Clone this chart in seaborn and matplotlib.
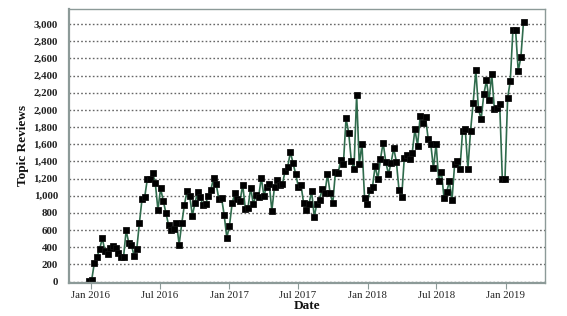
import numpy as np
import pandas as pd
import matplotlib
matplotlib.use("Agg")
import matplotlib.pyplot as plt
import matplotlib.dates as mdates
from matplotlib.ticker import FuncFormatter, MultipleLocator
import seaborn as sns

# weekly series starting at this date
start_date = "2015-12-27"
reviews = [
    8, 20, 220, 286, 380, 506, 353, 322, 388, 416, 388, 337, 282, 282, 596, 451,
    427, 298, 380, 682, 965, 984, 1195, 1195, 1265, 1150, 835, 1085, 943, 796, 660, 602,
    613, 687, 431, 680, 896, 1059, 998, 768, 920, 1041, 982, 889, 908, 998, 1071, 1211,
    1134, 959, 978, 776, 512, 650, 912, 1029, 959, 940, 1126, 846, 862, 1095, 901, 1009,
    982, 1211, 998, 1106, 1137, 827, 1106, 1188, 1126, 1137, 1289, 1339, 1510, 1378, 1254, 1106,
    1125, 912, 835, 901, 1056, 757, 908, 951, 1079, 1029, 1250, 1029, 912, 1281, 1261, 1416,
    1370, 1900, 1735, 1405, 1312, 2175, 1366, 1605, 970, 901, 1067, 1106, 1350, 1195, 1428, 1618,
    1397, 1250, 1385, 1553, 1397, 1067, 982, 1444, 1471, 1428, 1502, 1774, 1583, 1929, 1844, 1914,
    1665, 1600, 1320, 1603, 1176, 1281, 971, 1041, 1172, 950, 1370, 1405, 1308, 1758, 1777, 1312,
    1754, 2086, 2462, 2006, 1890, 2180, 2343, 2119, 2416, 2006, 2026, 2067, 1196, 1196, 2138, 2338,
    2934, 2934, 2452, 2615, 3027,
]
dates = pd.date_range(start_date, periods=len(reviews), freq="7D")
df = pd.DataFrame({"Date": dates, "Topic Reviews": reviews})

tick_dates = ["2016-01-01", "2016-07-01", "2017-01-01", "2017-07-01",
              "2018-01-01", "2018-07-01", "2019-01-01"]
tick_labels = ["Jan 2016", "Jul 2016", "Jan 2017", "Jul 2017",
               "Jan 2018", "Jul 2018", "Jan 2019"]

sns.set_theme(style="white")
plt.rcParams["font.family"] = ["Liberation Serif", "DejaVu Serif"]

fig = plt.figure(figsize=(5.67, 3.16), dpi=100)
ax = fig.add_axes([0.1217, 0.106, 0.8390, 0.8655])

sns.lineplot(data=df, x="Date", y="Topic Reviews", ax=ax, color="#2f6b4c",
             linewidth=1.2, marker="s", markersize=3.7, markerfacecolor="black",
             markeredgecolor="#111111", markeredgewidth=0.6)

ax.set_ylim(-10, 3175)
ax.set_xlim(pd.Timestamp("2015-11-04"), pd.Timestamp("2019-04-14"))
ax.yaxis.set_major_locator(MultipleLocator(200))
ax.yaxis.set_major_formatter(FuncFormatter(lambda v, p: f"{int(v):,}"))
ax.set_xticks(pd.to_datetime(tick_dates))
ax.set_xticklabels(tick_labels)

ax.grid(axis="y", linestyle=(0, (1.2, 1.6)), color="#666666", linewidth=1.0)
ax.grid(axis="x", visible=False)

for s in ax.spines.values():
    s.set_color("#8c9a98")
    s.set_linewidth(1.0)
ax.spines["left"].set_linewidth(1.6)
ax.spines["bottom"].set_linewidth(1.6)

ax.tick_params(axis="y", length=0, pad=8, labelsize=7.8, labelcolor="#222222")
ax.tick_params(axis="x", length=4, width=0.8, color="#8c9a98", bottom=True,
               pad=2, labelsize=7.8, labelcolor="#222222")
for lbl in ax.get_yticklabels():
    lbl.set_fontweight("bold")

ax.set_xlabel("Date", fontsize=9.5, fontweight="bold", labelpad=0, color="#111111")
ax.set_ylabel("Topic Reviews", fontsize=9.5, fontweight="bold", labelpad=3, color="#111111")

fig.savefig("out.png", dpi=100)
